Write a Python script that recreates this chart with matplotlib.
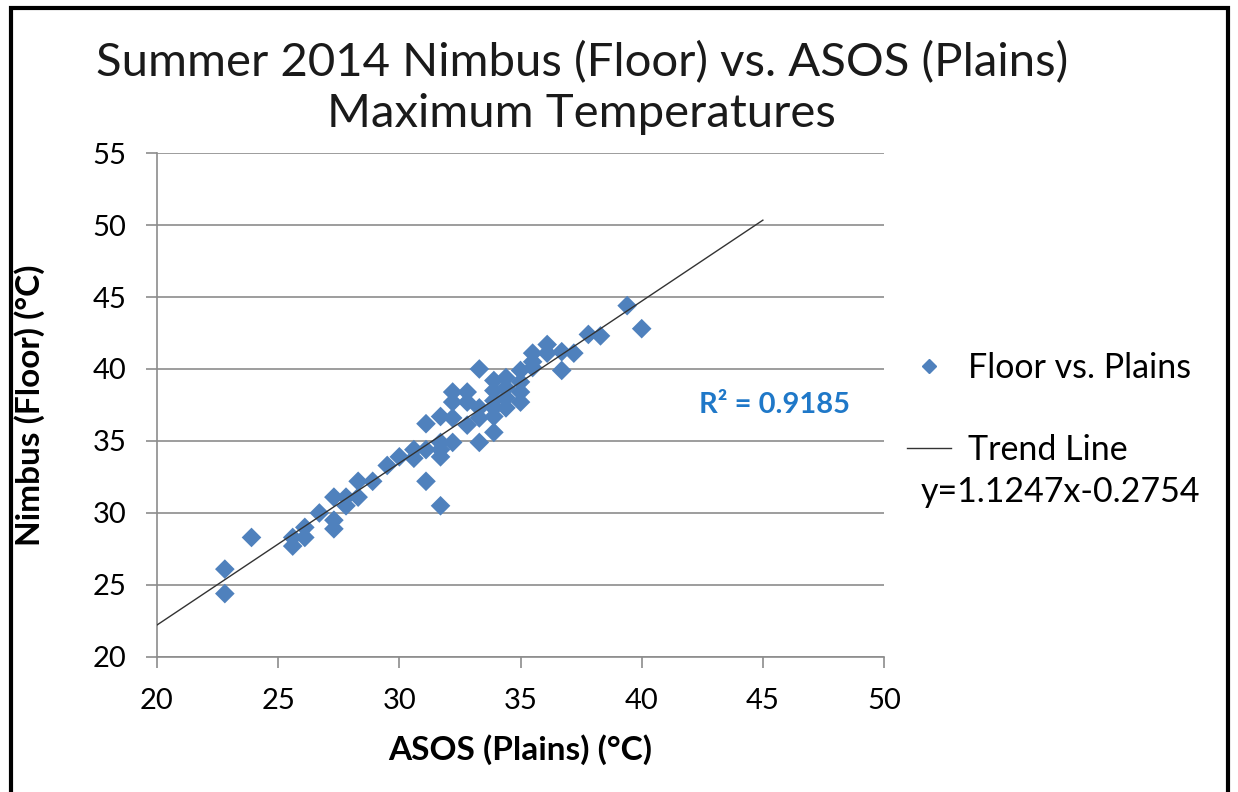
import matplotlib.pyplot as plt
from matplotlib.lines import Line2D
from matplotlib.patches import Rectangle

# ASOS (Plains) vs Nimbus (Floor) daily max temps
asos = [22.8, 22.8, 23.9, 25.6, 25.6, 26.1, 26.1, 26.7, 27.3, 27.3, 27.3,
        27.8, 27.8, 28.3, 28.3, 28.9, 29.5, 30.0, 30.6, 30.6,
        31.1, 31.1, 31.1, 31.7, 31.7, 31.7, 31.7, 31.7,
        32.2, 32.2, 32.2, 32.2, 32.8, 32.8, 32.8,
        33.3, 33.3, 33.3, 33.3,
        33.9, 33.9, 33.9, 33.9, 33.9, 33.9,
        34.4, 34.4, 34.4, 34.4,
        35.0, 35.0, 35.0, 35.0,
        35.5, 35.5, 35.5, 36.1, 36.1, 36.7, 36.7, 37.2,
        37.8, 38.3, 39.4, 40.0]
nimbus = [26.1, 24.4, 28.3, 28.3, 27.7, 29.0, 28.3, 30.0, 31.1, 29.5, 28.9,
          31.1, 30.5, 32.2, 31.1, 32.2, 33.3, 33.9, 34.4, 33.8,
          36.2, 34.4, 32.2, 36.7, 34.9, 34.4, 33.9, 30.5,
          38.4, 37.7, 36.6, 34.9, 38.4, 37.7, 36.1,
          40.0, 37.3, 36.6, 34.9,
          39.2, 38.5, 37.8, 37.3, 36.7, 35.6,
          39.4, 38.7, 38.0, 37.3,
          39.9, 39.1, 38.4, 37.7,
          41.1, 40.5, 40.1, 41.7, 41.1, 41.2, 39.9, 41.1,
          42.4, 42.3, 44.4, 42.8]

slope, intercept = 1.1247, -0.2754
trend_x = [20, 45]
trend_y = [slope * x + intercept for x in trend_x]

blue = '#4F81BD'
grid_gray = '#8c8c8c'

fig = plt.figure(figsize=(12.38, 7.92), dpi=100)
ax = fig.add_axes([0.1268, 0.1705, 0.5873, 0.6363])

ax.scatter(asos, nimbus, marker='D', s=100, color=blue, edgecolors='none', zorder=3)
ax.plot(trend_x, trend_y, color='#333333', lw=1.0, zorder=4)

ax.set_xlim(20, 50)
ax.set_ylim(20, 55)
ax.set_xticks(range(20, 51, 5))
ax.set_yticks(range(20, 56, 5))
ax.yaxis.grid(True, color=grid_gray, lw=1.2)
ax.set_axisbelow(True)
for s in ['top', 'right']:
    ax.spines[s].set_visible(False)
for s in ['left', 'bottom']:
    ax.spines[s].set_color(grid_gray)
    ax.spines[s].set_linewidth(1.2)
ax.tick_params(colors=grid_gray, labelcolor='black', labelsize=21, length=8, width=1.2, pad=14)
for lbl in ax.get_xticklabels() + ax.get_yticklabels():
    lbl.set_family('Lato')

ax.set_xlabel('ASOS (Plains) (°C)', fontsize=24, fontweight='bold', family='Lato', labelpad=15)
ax.set_ylabel('Nimbus (Floor) (°C)', fontsize=24, fontweight='bold', family='Lato', labelpad=34)

ax.text(45.5, 37.5, 'R² = 0.9185', color='#1F78C8', fontsize=21, fontweight='bold',
        family='Lato', ha='center', va='center')

fig.text(0.47, 0.889, 'Summer 2014 Nimbus (Floor) vs. ASOS (Plains)\nMaximum Temperatures',
         ha='center', va='center', fontsize=34, family='Lato', linespacing=1.25,
         color='#1a1a1a')

handles = [Line2D([], [], marker='D', color=blue, ls='none', markersize=7),
           Line2D([], [], color='#333333', lw=1.0)]
fig.legend(handles, ['Floor vs. Plains', 'Trend Line'], loc='upper left',
           bbox_to_anchor=(0.708, 0.594), frameon=False, handlelength=1.3,
           handletextpad=0.5, labelspacing=1.45,
           prop={'family': 'Lato', 'size': 24.5})
fig.text(0.744, 0.379, 'y=1.1247x-0.2754', fontsize=24.5, family='Lato', va='center')

fig.patches.append(Rectangle((0.009, -0.05), 0.983, 1.04, transform=fig.transFigure,
                             fill=False, edgecolor='black', lw=3))

fig.savefig('out.png', dpi=100)
